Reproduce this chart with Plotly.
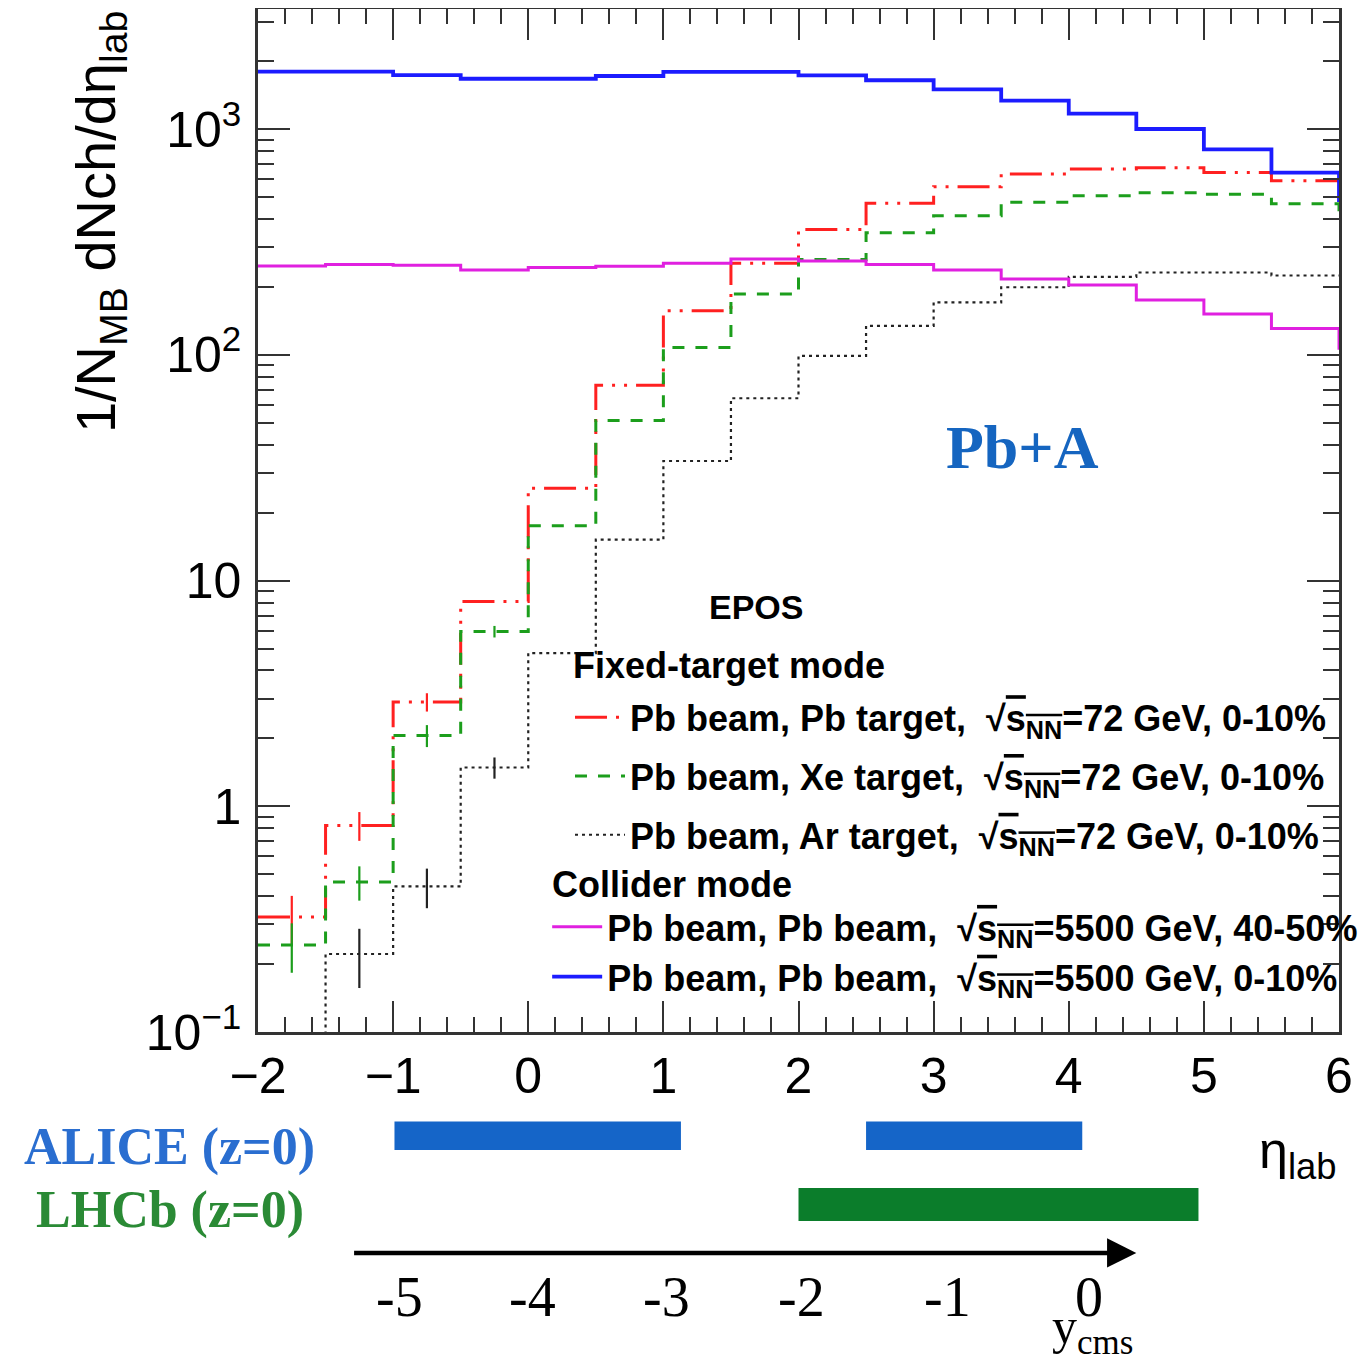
import plotly.graph_objects as go

# ---------------- data ----------------
eta_edges = [-2.0, -1.5, -1.0, -0.5, 0.0, 0.5, 1.0, 1.5, 2.0, 2.5, 3.0, 3.5,
             4.0, 4.5, 5.0, 5.5, 6.0, 6.5]

# Fixed-target mode, sqrt(sNN)=72 GeV, 0-10%
pb_pb_72 = [0.323, 0.823, 2.90, 8.08, 25.7, 73.5, 157, 255, 360, 470, 557, 634,
            667, 676, 644, 591]
pb_xe_72 = [0.243, 0.462, 2.06, 5.95, 17.5, 51.2, 108, 186.5, 265, 348, 414, 475,
            508, 524, 515, 468, 410]
pb_ar_72 = [0.05, 0.2216, 0.4416, 1.486, 4.77, 15.2, 33.9, 64.3, 99, 134.5, 171,
            199.6, 222, 232, 232, 225]
# statistical error bars visible on the low bins
pb_pb_72_err = [0.078, 0.12, 0.27, 0, 0, 0, 0, 0, 0, 0, 0, 0, 0, 0, 0, 0]
pb_xe_72_err = [0.06, 0.08, 0.23, 0.35, 0, 0, 0, 0, 0, 0, 0, 0, 0, 0, 0, 0, 0]
pb_ar_72_err = [0, 0.065, 0.088, 0.16, 0, 0, 0, 0, 0, 0, 0, 0, 0, 0, 0, 0]

# Collider mode, sqrt(sNN)=5500 GeV
pbpb_5500_40_50 = [248, 252, 250, 238, 244, 247, 255, 266, 261, 252, 238, 217,
                   204, 175, 152, 131, 107]
pbpb_5500_0_10 = [1800, 1800, 1738, 1675, 1675, 1722, 1795, 1795, 1734, 1649,
                  1503, 1339, 1173, 1003, 815, 643, 486]

x_ticks = [-2, -1, 0, 1, 2, 3, 4, 5, 6]
y_ticks = [0.1, 1, 10, 100, 1000]
y_ticktext = ["10<sup>\u22121</sup>", "1", "10", "10<sup>2</sup>", "10<sup>3</sup>"]

# detector acceptances in eta_lab
alice_ranges = [(-0.99, 1.13), (2.5, 4.1)]
lhcb_ranges = [(2.0, 4.96)]

# y_cms scale labels and where they sit on the eta_lab axis
ycms_labels = ["-5", "-4", "-3", "-2", "-1", "0"]
ycms_at_eta = [-0.95, 0.03, 1.02, 2.02, 3.1, 4.15]
ycms_arrow = (-1.30, 4.50)

SANS = "Liberation Sans, Arial, Helvetica, sans-serif"
SERIF = "Liberation Serif, Times New Roman, serif"
SQRT = "\u221a<span style='text-decoration:overline'>s<sub>NN</sub></span>"


def step_xy(values):
    n = len(values)
    xs = eta_edges[: n + 1]
    ys = list(values) + [values[-1]]
    return xs, ys


def centers(values):
    return [(eta_edges[i] + eta_edges[i + 1]) / 2 for i in range(len(values))]


fig = go.Figure()

series = [
    (pb_pb_72, pb_pb_72_err, "#ff2020", "32px,9px,3px,9px,3px,9px", 3,
     "Pb beam, Pb target,  " + SQRT + "=72 GeV, 0-10%", "legend"),
    (pb_xe_72, pb_xe_72_err, "#1c9e1c", "12px,11px", 3,
     "Pb beam, Xe target,  " + SQRT + "=72 GeV, 0-10%", "legend"),
    (pb_ar_72, pb_ar_72_err, "#222222", "3px,4px", 2.2,
     "Pb beam, Ar target,  " + SQRT + "=72 GeV, 0-10%", "legend"),
    (pbpb_5500_40_50, None, "#e020e0", "solid", 3,
     "Pb beam, Pb beam,  " + SQRT + "=5500 GeV, 40-50%", "legend2"),
    (pbpb_5500_0_10, None, "#1c1cff", "solid", 3.8,
     "Pb beam, Pb beam,  " + SQRT + "=5500 GeV, 0-10%", "legend2"),
]

for i, (vals, errs, col, dash, w, name, leg) in enumerate(series):
    xs, ys = step_xy(vals)
    fig.add_trace(go.Scatter(
        x=xs, y=ys, mode="lines", line=dict(shape="hv", color=col, width=w, dash=dash),
        name=name, legend=leg, legendgroup="g%d" % i, hoverinfo="skip"))
    if errs is not None:
        n = len(errs)
        fig.add_trace(go.Scatter(
            x=centers(errs), y=vals[:n], mode="markers",
            marker=dict(size=1, color=col, opacity=0),
            error_y=dict(type="data", array=errs, color=col, thickness=2.2, width=0),
            showlegend=False, hoverinfo="skip"))

# detector acceptance bars below the frame
shapes = []
for (a, b) in alice_ranges:
    shapes.append(dict(type="rect", xref="x", yref="paper", x0=a, x1=b,
                       y0=-0.1153, y1=-0.0875, fillcolor="#1565c8",
                       line=dict(width=0), layer="above"))
for (a, b) in lhcb_ranges:
    shapes.append(dict(type="rect", xref="x", yref="paper", x0=a, x1=b,
                       y0=-0.1848, y1=-0.1525, fillcolor="#0b7d2b",
                       line=dict(width=0), layer="above"))

legend_font = dict(family=SANS, size=36, color="black", weight="bold")

annotations = [
    dict(text="1/N<sub>MB</sub> dNch/d\u03b7<sub>lab</sub>", textangle=-90,
         xref="paper", yref="paper", x=-0.147, y=1.0, xanchor="center", yanchor="top",
         showarrow=False, font=dict(family=SANS, size=56, color="black")),
    dict(text="Pb+A", xref="paper", yref="paper", x=0.7072, y=0.5718,
         xanchor="center", yanchor="middle", showarrow=False,
         font=dict(family=SERIF, size=62, color="#1565c0", weight="bold")),
    dict(text="EPOS", xref="paper", yref="paper", x=0.461, y=0.4155,
         xanchor="center", yanchor="middle", showarrow=False,
         font=dict(family=SANS, size=34, color="black", weight="bold")),
    dict(text="Fixed-target mode", xref="paper", yref="paper", x=0.290, y=0.3587,
         xanchor="left", yanchor="middle", showarrow=False, font=legend_font),
    dict(text="Collider mode", xref="paper", yref="paper", x=0.2697, y=0.1437,
         xanchor="left", yanchor="middle", showarrow=False, font=legend_font),
    dict(text="ALICE (z=0)", xref="paper", yref="paper", x=-0.0815, y=-0.1124,
         xanchor="center", yanchor="middle", showarrow=False,
         font=dict(family=SERIF, size=52, color="#2a6ed0", weight="bold")),
    dict(text="LHCb (z=0)", xref="paper", yref="paper", x=-0.0815, y=-0.1740,
         xanchor="center", yanchor="middle", showarrow=False,
         font=dict(family=SERIF, size=52, color="#2a8a35", weight="bold")),
    dict(text="\u03b7<sub>lab</sub>", xref="paper", yref="paper", x=0.962, y=-0.119,
         xanchor="center", yanchor="middle", showarrow=False,
         font=dict(family=SANS, size=52, color="black")),
    dict(text="", xref="x", yref="paper", x=ycms_arrow[1], y=-0.216,
         axref="x", ax=ycms_arrow[0], ayref="pixel", ay=0, showarrow=True,
         arrowhead=2, arrowsize=1.3, arrowwidth=4.5, arrowcolor="black"),
    dict(text="y<sub>cms</sub>", xref="paper", yref="paper", x=0.772, y=-0.291,
         xanchor="center", yanchor="middle", showarrow=False,
         font=dict(family=SERIF, size=50, color="black")),
]
for lab, pos in zip(ycms_labels, ycms_at_eta):
    annotations.append(dict(text=lab, xref="x", yref="paper", x=pos, y=-0.259,
                            xanchor="center", yanchor="middle", showarrow=False,
                            font=dict(family=SERIF, size=56, color="black")))

minor_y = [m * 10 ** e for e in range(-1, 4) for m in range(2, 10)]

axis_common = dict(ticks="inside", tickcolor="#333", tickwidth=2, showline=True,
                   linecolor="#333", linewidth=2.5, mirror="allticks",
                   showgrid=False, zeroline=False)

# the page body has an 8 px margin: the figure is sized/offset to compensate
fig.update_layout(
    width=1364, height=1355, autosize=False,
    margin=dict(l=250, r=33, t=1, b=331, autoexpand=False),
    paper_bgcolor="white", plot_bgcolor="white",
    xaxis=dict(range=[-2, 6], tickmode="array", tickvals=x_ticks, ticklen=31,
               minor=dict(dtick=0.2, ticks="inside", ticklen=15, tickwidth=2,
                          tickcolor="#333", showgrid=False),
               tickfont=dict(family=SANS, size=50, color="black"),
               ticklabelstandoff=-2, **axis_common),
    yaxis=dict(type="log", range=[-1, 3.533], tickmode="array", tickvals=y_ticks,
               ticktext=y_ticktext, ticklen=32,
               minor=dict(tickmode="array", tickvals=minor_y, ticks="inside",
                          ticklen=16, tickwidth=2, tickcolor="#333", showgrid=False),
               tickfont=dict(family=SANS, size=50, color="black"),
               ticklabelstandoff=4, **axis_common),
    legend=dict(x=0.2886, y=0.337, xanchor="left", yanchor="top",
                bgcolor="rgba(0,0,0,0)", traceorder="grouped", tracegroupgap=9,
                font=legend_font, itemwidth=50),
    legend2=dict(x=0.2675, y=0.132, xanchor="left", yanchor="top",
                 bgcolor="rgba(0,0,0,0)", traceorder="grouped", tracegroupgap=0,
                 font=dict(family=SANS, size=36, color="black", weight="bold"),
                 itemwidth=50),
    shapes=shapes,
    annotations=annotations,
)

fig.write_html("out.html")
